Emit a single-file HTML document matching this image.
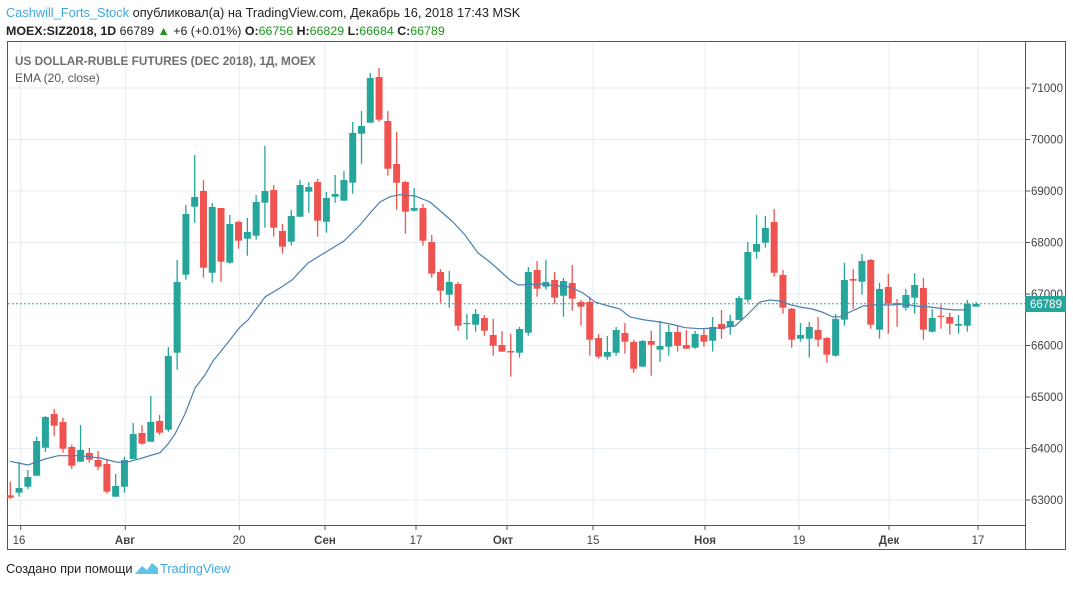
<!DOCTYPE html>
<html><head><meta charset="utf-8"><style>
body{margin:0;background:#fff;width:1073px;height:587px;overflow:hidden;font-family:"Liberation Sans","DejaVu Sans",sans-serif;}
svg text{font-family:"Liberation Sans","DejaVu Sans",sans-serif;}
</style></head><body>
<svg id="s" width="1073" height="587" xmlns="http://www.w3.org/2000/svg">
<text x="6" y="17" font-size="12.8" fill="#3fa7e0">Cashwill_Forts_Stock <tspan fill="#222">опубликовал(а) на TradingView.com, Декабрь 16, 2018 17:43 MSK</tspan></text>
<text x="6" y="35" font-size="12.4" fill="#222"><tspan font-weight="bold">MOEX:SIZ2018, 1D</tspan> 66789 <tspan fill="#1a9a1a">▲</tspan> +6 (+0.01%) <tspan font-weight="bold">O:</tspan><tspan fill="#1a9a1a">66756</tspan> <tspan font-weight="bold">H:</tspan><tspan fill="#1a9a1a">66829</tspan> <tspan font-weight="bold">L:</tspan><tspan fill="#1a9a1a">66684</tspan> <tspan font-weight="bold">C:</tspan><tspan fill="#1a9a1a">66789</tspan></text>
<g id="grid" stroke="#e6edf3" stroke-width="1"></g>
<rect x="7.5" y="41.5" width="1058" height="508" fill="none" stroke="#555"/>
<line x1="1025.5" y1="41" x2="1025.5" y2="550" stroke="#555"/>
<line x1="7" y1="525.5" x2="1025" y2="525.5" stroke="#555"/>
<text x="15" y="65" font-size="11.8" fill="#555" font-weight="bold" opacity="0.85">US DOLLAR-RUBLE FUTURES (DEC 2018), 1Д, MOEX</text>
<text x="15" y="82" font-size="12" fill="#555">EMA (20, close)</text>
<g id="c"></g>
<polyline id="ema" fill="none" stroke="#4a7fb0" stroke-width="1.2"/>
<line x1="8" y1="303.7" x2="1025" y2="303.7" stroke="#26a69a" stroke-dasharray="2,2"/>
<g font-size="11.5" fill="#444" id="yl">
<text x="1031" y="92">71000</text><text x="1031" y="143.5">70000</text><text x="1031" y="195">69000</text><text x="1031" y="246.5">68000</text><text x="1031" y="298">67000</text><text x="1031" y="349.5">66000</text><text x="1031" y="401">65000</text><text x="1031" y="452.5">64000</text><text x="1031" y="504">63000</text>
</g>
<rect x="1025" y="296" width="41" height="16" fill="#26a69a"/>
<text x="1030" y="308" font-size="11.5" fill="#fff">66789</text>
<g font-size="11.5" fill="#444" text-anchor="middle">
<text x="19" y="544">16</text><text x="125" y="544" font-weight="bold">Авг</text><text x="239" y="544">20</text><text x="325" y="544" font-weight="bold">Сен</text><text x="416" y="544">17</text><text x="503" y="544" font-weight="bold">Окт</text><text x="593" y="544">15</text><text x="705" y="544" font-weight="bold">Ноя</text><text x="799" y="544">19</text><text x="889" y="544" font-weight="bold">Дек</text><text x="978" y="544">17</text>
</g>
<text x="6" y="573" font-size="12.8" fill="#222">Создано при помощи</text>
<path d="M135 574 L142 566 L147 570 L152 563 L158 568 L158 574 Z" fill="#5fc2e8"/>
<text x="160" y="573" font-size="12.8" fill="#3fa7e0">TradingView</text>
</svg>
<script>
var NS="http://www.w3.org/2000/svg",s=document.getElementById('grid');
function L(p,x1,y1,x2,y2){var l=document.createElementNS(NS,'line');l.setAttribute('x1',x1);l.setAttribute('y1',y1);l.setAttribute('x2',x2);l.setAttribute('y2',y2);p.appendChild(l);return l;}
[88,139.5,191,242.5,294,345.5,397,448.5,500].forEach(function(y){L(s,8,y,1025,y);var t=L(s,1025,y,1030,y);t.setAttribute('stroke','#555');});
[20.7,125.3,239.3,325,416,507,593,705,799,889,978].forEach(function(x){L(s,x,42,x,525);var t=L(s,x,525,x,530);t.setAttribute('stroke','#555');});
var D=[
['r',495.3,497.7,481.7,499],['g',488,492.7,462,496.7],['g',477,486.7,470,489],['g',441,475.7,436.7,475.7],['g',417,447.7,416,452],
['r',414,425.7,408.7,436],['r',422,448.7,417.7,452.7],['r',447,465.7,444.7,469],['g',450,461.7,425,461.7],['r',453,459.7,448,462.7],
['r',460,466.7,451,470],['r',464,491.7,460,493.7],['g',486,496.7,474,496.7],['g',460,486.7,456.7,492.7],['g',434,459,423,459],
['r',433,443.7,425,444.7],['g',422,441.7,396,441.7],['r',421,432.7,415,434.7],['g',356,429.7,347,431.7],['g',282,352.7,260,369.7],
['g',214,274.7,205,279.7],['g',197,206.7,155,222.7],['r',191,267.7,180,277.7],['g',207,272.7,203,282.7],['r',208,261.7,208,281.7],
['g',224,262.7,215,263.7],['r',222,240.7,220.7,248.7],['g',232,238.7,218,255.7],['g',202,235.7,195,239.7],['g',191,202.7,146,227.7],
['r',190,227.7,185,236.7],['r',231,246.7,224,253.7],['g',216,241.7,210,245.7],['g',185,216.7,180,216.7],['g',187,191.7,182,212.7],
['r',182,220.7,179,236.7],['g',198,221.7,192,232.7],['g',194,196.7,175,202.7],['g',180,200.7,171,200.7],['g',133,182.7,122,193.7],
['g',126,133.7,111,163.7],['g',78,122.7,73,122.7],['r',77,119.7,68,121.7],['r',121,168.7,111,175.7],['r',164,182.7,132,209.7],
['r',182,211.7,181,233.7],['g',208,210.7,188,211.7],['r',208,240.7,204,245.7],['r',242,273.7,235,277.7],['r',272,290.7,269,302.7],
['g',282,294.7,271,307.7],['r',284,325.7,282,330.7],['g',323,324,314,339.7],['g',314,324.7,309,331.7],['r',318,330.7,315,335.7],
['r',335,345.7,319,355.7],['r',345,351.7,331,351.7],['r',351,352.5,333.7,376.7],['g',329,352.7,326.7,357.7],['g',272,332.7,267,335.7],
['r',270,288.7,261,296.7],['g',282,286.7,260,289.7],['r',280,297.7,272,303.7],['g',281,295.7,278,316.7],['r',283,298.7,265,310.7],
['r',302,306.7,300,325.7],['r',302,339.7,296.7,355.7],['r',338,356.7,334,358.7],['g',352,356.7,336,359.7],['g',330,352.7,327,355.7],
['r',333,341.7,323,353.7],['r',342,368.7,340,372.7],['g',341,366.7,340,366.7],['r',341,344.7,331,375.7],['g',346,349.7,321,361.7],
['g',332,346.7,325,355.7],['r',332,345.7,326,351.7],['r',345,348.7,330,348.7],['g',334,347.7,331,348.7],['r',335,341.7,329,346.7],
['g',327,340.7,317,351.7],['r',324,329,310,338.7],['g',321,326.7,315,334.7],['g',298,320,296,320],['g',252,299.7,242,302.7],
['g',244,251.7,215,258.7],['g',228,242.7,216,247.7],['r',222,272.7,209,276.7],['r',275,307.7,270,313.7],['r',308.7,339.7,307.7,347.7],
['g',335,338.7,323,341.7],['g',327,338.7,322,357.7],['r',330,339.7,317,346.7],['r',338,354.7,337,362.7],['g',319,355.7,314,356.7],
['g',280,319.7,263,325.7],['r',279,280.7,269,309],['g',261,281.7,254,294.7],['r',260,324.7,259,328.7],['g',289,329.7,283,338.7],
['r',287,303.7,274,333.7],['r',303,305,299,326.7],['g',295,307.7,289,310.7],['g',285,297.7,273,313.7],['r',288,329.7,278,339.7],
['g',318,331.7,309,332.7],['r',315.7,316.7,304.7,328.7],['r',317,323.7,312.7,334.7],['g',324,325.7,315,333.7],['g',304,325.7,300,331.7],
['g',304,306.7,302,306.7]];
var c=document.getElementById('c');
D.forEach(function(d,i){var x=10.3+8.78*i,col=d[0]=='g'?'#26a69a':'#ef5350';
var w=L(c,x,d[3],x,d[4]);w.setAttribute('stroke',col);w.setAttribute('stroke-width','1.3');
var r=document.createElementNS(NS,'rect');r.setAttribute('x',x-3.5);r.setAttribute('y',d[1]);r.setAttribute('width',7);r.setAttribute('height',Math.max(1.2,d[2]-d[1]));r.setAttribute('fill',col);c.appendChild(r);});
var E=[[10,461.3],[28,465],[45,459],[58,455.7],[80,455.7],[100,458],[116,462],[125,462.7],[140,458.7],[152,455],[160,452.7],[168,444],[175,434],[185,414],[195,388],[205,375],[213,361],[222,350],[233,336],[240,327],[248,320],[265,297],[280,288],[292,280],[308,263],[344,241],[360,225],[371,212],[380,202],[390,196.7],[400,194.7],[415,196],[430,202],[445,215],[453,222],[465,235],[478,253],[490,262],[500,271],[510,280],[518,285],[526,284.7],[540,284],[570,287],[583,293],[595,302],[605,305],[620,309],[630,317],[645,320],[660,322],[675,325],[685,327.7],[700,328.7],[718,328],[735,326],[745,317],[760,302],[770,300],[780,301],[790,304.7],[800,307],[812,309],[822,312],[833,317],[840,316.7],[850,312],[863,306],[875,305],[890,305],[905,304],[915,306],[930,307],[945,309],[955,310],[970,309.7]];
document.getElementById('ema').setAttribute('points',E.map(function(p){return p.join(',')}).join(' '));
</script>
</body></html>
